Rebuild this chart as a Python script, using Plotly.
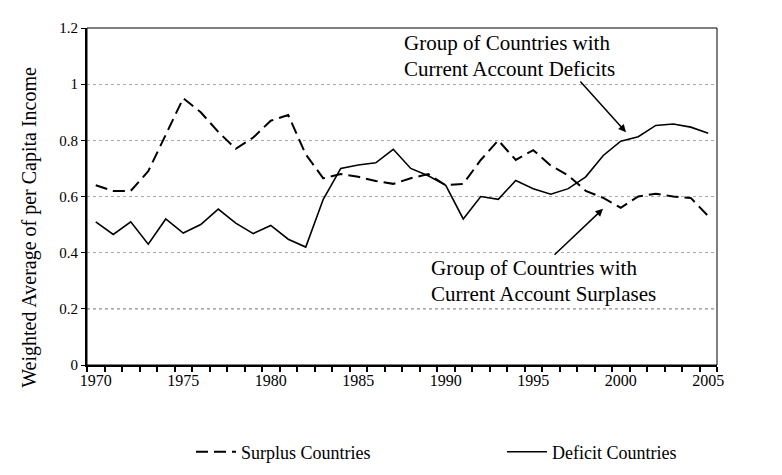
import plotly.graph_objects as go

years = list(range(1970, 2006))
surplus = [0.64, 0.62, 0.62, 0.69, 0.82, 0.95, 0.90, 0.83, 0.77, 0.81, 0.87, 0.89,
           0.75, 0.665, 0.68, 0.67, 0.655, 0.645, 0.665, 0.68, 0.64, 0.645, 0.73, 0.80,
           0.73, 0.765, 0.71, 0.675, 0.62, 0.595, 0.56, 0.60, 0.61, 0.60, 0.595, 0.53]
deficit = [0.51, 0.465, 0.51, 0.43, 0.52, 0.47, 0.50, 0.555, 0.505, 0.468, 0.497, 0.448,
           0.42, 0.59, 0.70, 0.712, 0.72, 0.768, 0.70, 0.674, 0.64, 0.52, 0.60, 0.59,
           0.657, 0.628, 0.608, 0.628, 0.67, 0.746, 0.797, 0.813, 0.853, 0.858, 0.847, 0.825]
x_tick_labels = [1970, 1975, 1980, 1985, 1990, 1995, 2000, 2005]
y_ticks = [0, 0.2, 0.4, 0.6, 0.8, 1.0, 1.2]
y_tick_text = ["0", "0.2", "0.4", "0.6", "0.8", "1", "1.2"]
dark_grid = 0.2

FONT = "Liberation Serif"
L, R, T, B = 79, 709, 17, 373
W, H = 782, 475
XMIN, XMAX = 1969.5, 2005.5
YMIN, YMAX = 0, 1.2


def dx(px):
    return XMIN + (px - L) / (R - L) * (XMAX - XMIN)


def dy(py):
    return YMIN + (B - py) / (B - T) * (YMAX - YMIN)


fig = go.Figure()
fig.add_trace(go.Scatter(x=years, y=surplus, mode="lines", name="Surplus Countries",
                         legend="legend",
                         line=dict(color="black", width=2, dash="12px,6px")))
fig.add_trace(go.Scatter(x=years, y=deficit, mode="lines", name="Deficit Countries",
                         legend="legend2",
                         line=dict(color="black", width=1.6)))

tfont = dict(family=FONT, size=21, color="black")
ann = []
for txt, px, py in [("Group of Countries with", 394, 33),
                    ("Current Account Deficits", 394, 60),
                    ("Group of Countries with", 421, 271),
                    ("Current Account Surplases", 421, 298)]:
    ann.append(dict(x=dx(px), y=dy(py), xref="x", yref="y", text=txt, showarrow=False,
                    xanchor="left", yanchor="middle", font=tfont))
sfont = dict(family=FONT, size=19, color="black")
for txt, px, py in [("High", 716, 111), ("Income", 716, 136),
                    ("Low", 716, 220), ("Income", 716, 246)]:
    ann.append(dict(x=dx(px), y=dy(py), xref="x", yref="y", text=txt, showarrow=False,
                    xanchor="left", yanchor="middle", font=sfont))
for (tx, ty, hx, hy) in [(571, 72, 618, 127), (545, 258, 595, 208),
                         (730, 88, 730, 32), (731, 280, 731, 345)]:
    ann.append(dict(x=dx(hx), y=dy(hy), ax=dx(tx), ay=dy(ty), xref="x", yref="y",
                    axref="x", ayref="y", text="", showarrow=True, arrowhead=2,
                    arrowsize=1, arrowwidth=1.5, arrowcolor="black"))
ann.append(dict(x=(22 - L) / (R - L), y=(B - 228) / (B - T), xref="paper", yref="paper",
                text="Weighted Average of per Capita Income", textangle=-90, showarrow=False,
                xanchor="center", yanchor="middle",
                font=dict(family=FONT, size=20, color="black")))

lfont = dict(family=FONT, size=18, color="black")
fig.update_layout(
    width=W, height=H,
    margin=dict(l=L, r=W - R, t=T, b=H - B),
    paper_bgcolor="white", plot_bgcolor="white",
    font=dict(family=FONT, color="black"),
    annotations=ann,
    showlegend=True,
    legend=dict(orientation="h", x=(183 - L) / (R - L), y=(B - 465) / (B - T),
                xanchor="left", yanchor="middle", font=lfont, itemwidth=40,
                bgcolor="rgba(0,0,0,0)"),
    legend2=dict(orientation="h", x=(494 - L) / (R - L), y=(B - 465) / (B - T),
                 xanchor="left", yanchor="middle", font=lfont, itemwidth=40,
                 bgcolor="rgba(0,0,0,0)"),
    shapes=[dict(type="rect", xref="paper", yref="paper", x0=0, y0=0, x1=1, y1=1,
                 line=dict(color="black", width=1)),
            dict(type="line", xref="paper", yref="y", x0=0, x1=1, y0=dark_grid, y1=dark_grid,
                 line=dict(color="#555555", width=1, dash="dot"), layer="below")],
)
fig.update_xaxes(range=[XMIN, XMAX], tickvals=x_tick_labels,
                 ticktext=[str(v) for v in x_tick_labels], ticks="", showgrid=False,
                 zeroline=False, showline=True, linecolor="black", linewidth=2,
                 tickfont=dict(family=FONT, size=16, color="black"),
                 minor=dict(tick0=XMIN, dtick=1, ticks="outside", ticklen=5,
                            tickcolor="black", tickwidth=1.5, showgrid=False))
fig.update_yaxes(range=[YMIN, YMAX], tickvals=y_ticks, ticktext=y_tick_text,
                 ticks="outside", ticklen=4, tickcolor="black", showgrid=True,
                 gridcolor="#aaaaaa", griddash="dot", gridwidth=1, zeroline=False,
                 showline=True, linecolor="black", linewidth=2,
                 tickfont=dict(family=FONT, size=15, color="black"))

fig.write_html("out.html")
